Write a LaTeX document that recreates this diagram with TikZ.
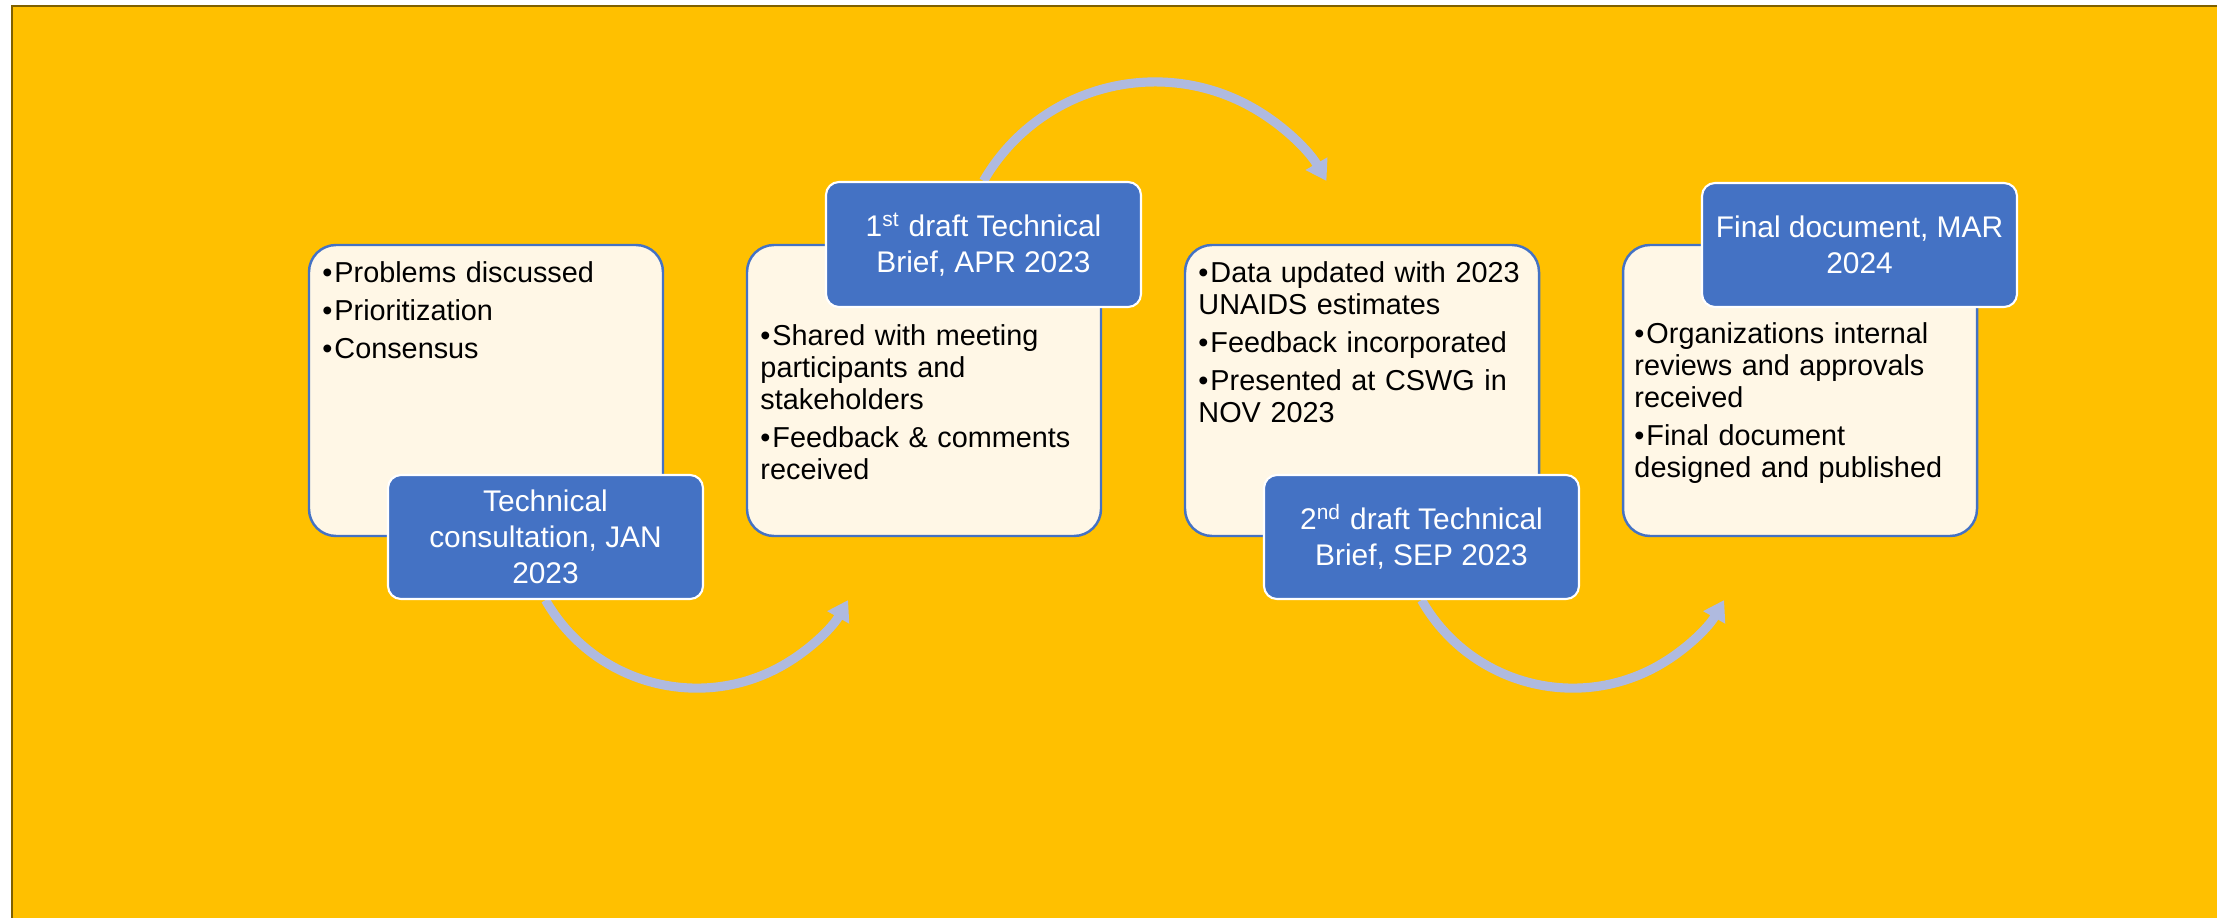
\documentclass[tikz,border=0pt]{standalone}
\usepackage{fontspec}
\setmainfont{Liberation Sans}
\usetikzlibrary{arrows.meta,backgrounds}

\definecolor{slidegold}{HTML}{FFC000}
\definecolor{slideedge}{HTML}{7F6000}
\definecolor{cardcream}{HTML}{FFF7E6}
\definecolor{stageblue}{HTML}{4472C4}
\definecolor{flowblue}{HTML}{AFBADF}

\newlength{\bulletw}
\setlength{\bulletw}{0.12cm}
\newcommand{\bitem}[1]{\par\noindent\hangindent=\bulletw\hangafter=1\makebox[\bulletw][l]{\textbullet}#1}

\tikzset{
  card/.style={draw=stageblue, line width=0.7pt, fill=cardcream, rounded corners=0.27cm,
    minimum width=3.54cm, minimum height=2.91cm, inner sep=0pt},
  stage/.style={draw=white, line width=0.6pt, fill=stageblue, text=white, rounded corners=0.13cm,
    minimum width=3.15cm, minimum height=1.24cm, inner sep=0pt, align=center,
    font=\fontsize{8.5}{10.2}\selectfont},
  notes/.style={anchor=north west, inner sep=0pt, text width=3.3cm, align=left,
    font=\fontsize{8.2}{9.1}\selectfont,
    execute at begin node={\setlength{\parskip}{1.7pt}}},
  flow/.style={draw=flowblue, line width=2.6pt, -{Triangle[length=0.2cm,width=0.24cm]}}
}

\begin{document}
\begin{tikzpicture}
  \useasboundingbox (0,0) rectangle (22.17,9.17);

  % Cream cards
  \foreach \n/\x in {1/4.86, 2/9.24, 3/13.62, 4/18.00}
    \node[card] (c\n) at (\x,5.265) {};

  % Bullet lists
  \node[notes] (n1) at ([shift={(0.14,0)}]c1.north west)
    {\bitem{Problems discussed}\bitem{Prioritization}\bitem{Consensus}};
  \node[notes] (n2) at ([shift={(0.14,-0.634)}]c2.north west)
    {\bitem{Shared with meeting\\participants and\\stakeholders}%
     \bitem{Feedback \& comments\\received}};
  \node[notes] (n3) at ([shift={(0.14,0)}]c3.north west)
    {\bitem{Data updated with 2023\\UNAIDS estimates}%
     \bitem{Feedback incorporated}%
     \bitem{Presented at CSWG in\\NOV 2023}};
  \node[notes] (n4) at ([shift={(0.12,-0.614)}]c4.north west)
    {\bitem{Organizations internal\\reviews and approvals\\received}%
     \bitem{Final document\\designed and published}};

  % Stage labels
  \node[stage] (t1) at (5.455,3.80) {Technical\\consultation, JAN\\2023};
  \node[stage, minimum height=1.25cm] (t2) at (9.835,6.725)
    {1\textsuperscript{st} draft Technical\\Brief, APR 2023};
  \node[stage] (t3) at (14.215,3.80) {2\textsuperscript{nd} draft Technical\\Brief, SEP 2023};
  \node[stage] (t4) at (18.595,6.72) {Final document, MAR\\2024};

  % Slide and arcs behind
  \begin{pgfonlayer}{background}
    \draw[fill=slidegold, draw=slideedge, line width=0.57pt] (0.117,-0.5) rectangle (22.8,9.11);
    \draw[flow] (t1.south) arc[start angle=209.6, end angle=330.4, radius=1.74];
    \draw[flow] (t2.north) arc[start angle=150, end angle=30, radius=1.98];
    \draw[flow] (t3.south) arc[start angle=209.6, end angle=330.4, radius=1.74];
  \end{pgfonlayer}
\end{tikzpicture}
\end{document}
